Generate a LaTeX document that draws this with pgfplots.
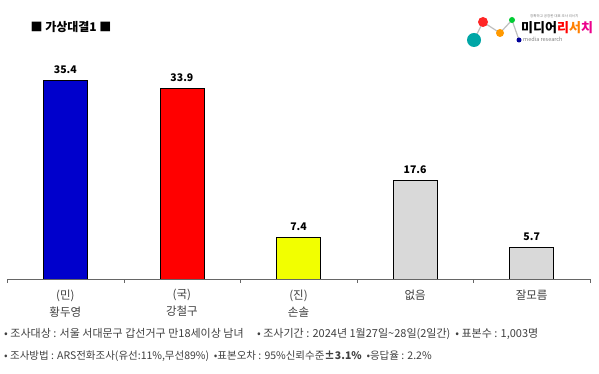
\documentclass[border=0pt]{standalone}
\usepackage{pgfplots}
\pgfplotsset{compat=1.18}
\usepackage{fontspec}
\setmainfont{Noto Sans CJK KR}
\definecolor{barblue}{HTML}{0000CC}
\definecolor{barred}{HTML}{FF0000}
\definecolor{baryel}{HTML}{F2FF00}
\definecolor{bargray}{HTML}{D9D9D9}
\definecolor{txt}{HTML}{404040}
\begin{document}
\begin{tikzpicture}[x=1pt,y=1pt]
\path[fill=white] (0,0) rectangle (599,374);
% title
\node[anchor=west,font=\fontsize{12}{14}\selectfont\bfseries,text=black] at (27,347) {■ 가상대결1 ■};
% logo
\draw[gray!50,line width=1.2pt] (474,334) -- (483,352) -- (500,341) -- (512,354) -- (519,334);
\fill[teal!70!cyan] (474,334) circle (7);
\fill[red!80!pink] (483,352) circle (5);
\fill[orange!80!yellow] (500,341) circle (4);
\fill[green!60!teal] (512,354) circle (3);
\fill[blue!60!black] (519,334) circle (2.5);
\node[anchor=west,font=\fontsize{13}{14}\selectfont\bfseries,inner sep=0] at (521,346) {\textcolor{black}{미디어}\textcolor{red}{리}\textcolor{orange}{서}\textcolor{magenta}{치}};
\node[anchor=west,font=\fontsize{5.5}{6}\selectfont,inner sep=0,text=gray] at (523,335) {media research};
\node[anchor=west,font=\fontsize{3.5}{4}\selectfont,inner sep=0,text=gray] at (530,358) {정확하고 공정한 대표 조사 리서치};
\begin{axis}[
  at={(7pt,95pt)}, anchor=south west,
  scale only axis, width=583pt, height=224.4pt,
  xmin=-0.5, xmax=4.5, ymin=0, ymax=40,
  axis x line=bottom, axis y line=none,
  axis line style={gray!80!black,-},
  xtick={0,1,2,3,4},
  xticklabels={{(민)\\황두영},{(국)\\강철구},{(진)\\손솔},{없음},{잘모름}},
  xticklabel style={align=center,anchor=north,font=\fontsize{11.5}{17}\selectfont,text=txt,yshift=-7pt},
  major tick length=0pt,
  extra x ticks={-0.5,0.5,1.5,2.5,3.5,4.5},
  extra x tick labels={},
  extra x tick style={major tick length=4pt, tick style={gray!80!black}, tick align=outside},
  ytick=\empty,
  ybar, bar width=44pt,
  nodes near coords={\pgfmathprintnumber[fixed,fixed zerofill,precision=1,assume math mode=true]{\pgfplotspointmeta}},
  nodes near coords style={font=\fontsize{10.5}{12}\selectfont\bfseries,text=black,yshift=3pt},
]
\addplot[fill=barblue,draw=black,line width=0.8pt,bar shift=0pt] coordinates {(0,35.4)};
\addplot[fill=barred,draw=black,line width=0.8pt,bar shift=0pt] coordinates {(1,33.9)};
\addplot[fill=baryel,draw=black,line width=0.8pt,bar shift=0pt] coordinates {(2,7.4)};
\addplot[fill=bargray,draw=black,line width=0.8pt,bar shift=0pt] coordinates {(3,17.6) (4,5.7)};
\end{axis}
% footnotes
\node[anchor=west,font=\fontsize{11}{12}\selectfont,text=txt,inner sep=0] at (4,40) {• 조사대상 : 서울 서대문구 갑선거구 만18세이상 남녀 \quad • 조사기간 : 2024년 1월27일\textasciitilde28일(2일간) \ • 표본수 : 1,003명};
\node[anchor=west,font=\fontsize{10.5}{12}\selectfont,text=txt,inner sep=0] at (4,18) {• 조사방법 : ARS전화조사(유선:11\%,무선89\%) \ •표본오차 : 95\%신뢰수준\textbf{±3.1\%} \ •응답율 : 2.2\%};
\end{tikzpicture}
\end{document}
